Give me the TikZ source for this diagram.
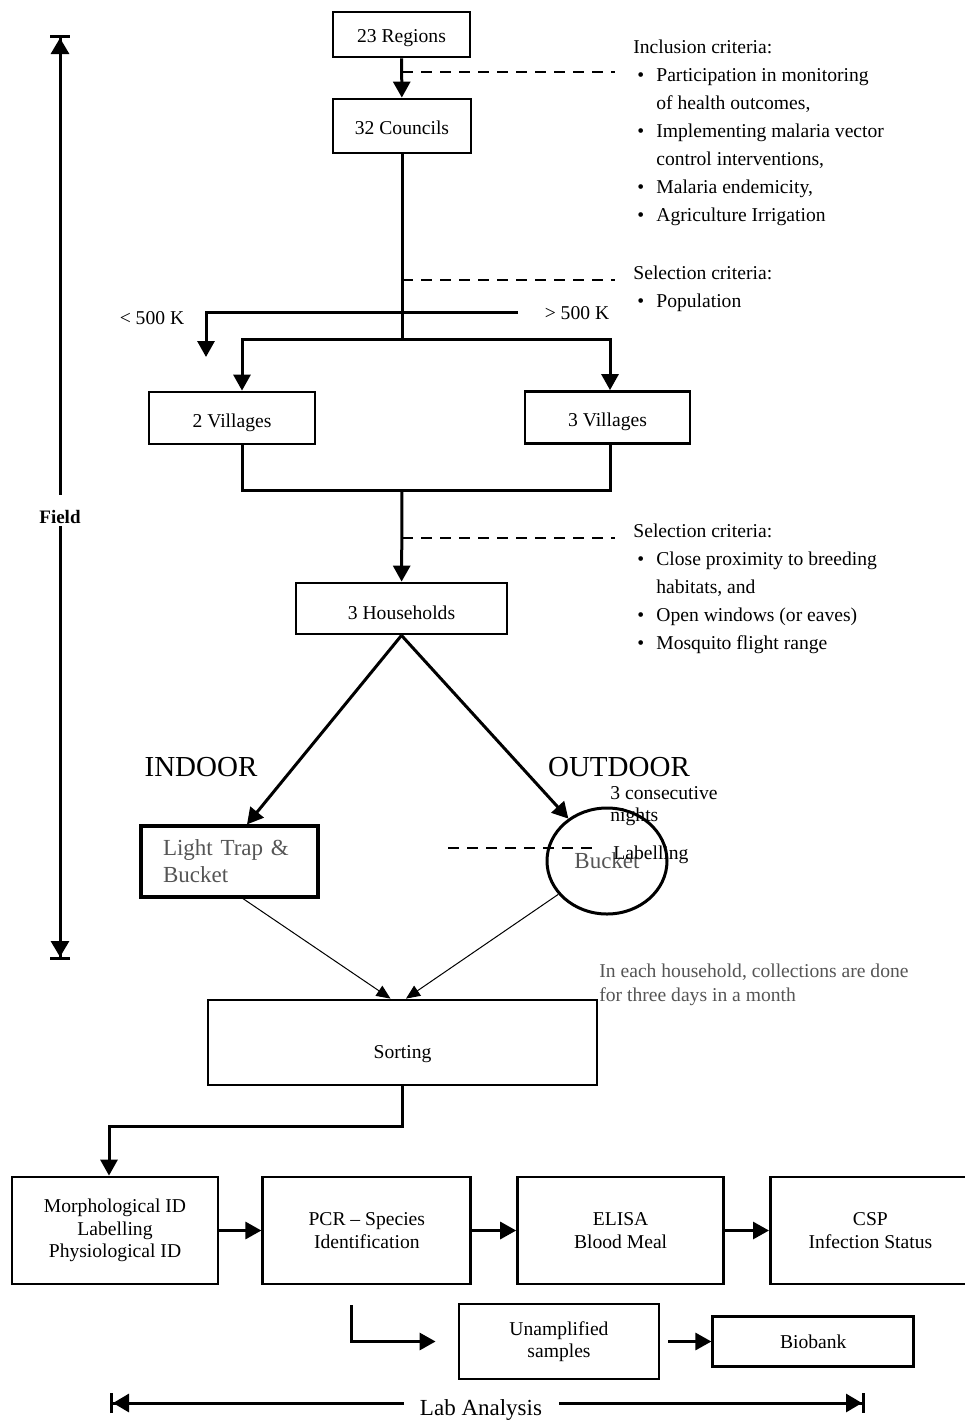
\documentclass[tikz,border=0pt]{standalone}
\usepackage{fontspec}
\setmainfont{Liberation Serif}
\usetikzlibrary{arrows.meta,positioning,shapes.geometric}
\definecolor{NoteGrey}{RGB}{85,85,85}
\newcommand{\boxfont}{\fontsize{9.8}{11.3}\selectfont}
\newcommand{\critfont}{\fontsize{9.8}{14}\selectfont}
\newcommand{\critbul}{\hspace*{2pt}\makebox[9.5pt][l]{\textbullet}}
\newcommand{\critgap}{\hspace*{11.5pt}}
\tikzset{
  stage/.style={draw,line width=1.4pt,align=center,inner sep=0pt,font=\boxfont},
  lowtext/.style={text height=#1,text depth=1.5pt},
  trapbox/.style={draw,line width=1.6pt,align=left,inner xsep=11pt,inner ysep=0pt,
    text width=66.5pt,minimum height=35.5pt,text=NoteGrey,
    font=\fontsize{11.5}{13.5}\selectfont},
  bucketbox/.style={ellipse,draw,line width=1.5pt,inner sep=0pt,text=NoteGrey,
    minimum width=60pt,minimum height=53pt,font=\fontsize{11.5}{13.5}\selectfont},
  flow/.style={-{Triangle[length=8pt,width=8.5pt]},line width=1.5pt},
  link/.style={line width=1.5pt},
  feed/.style={-{Triangle[length=7pt,width=6pt]},line width=0.5pt},
  guide/.style={dash pattern=on 5.5pt off 4pt,line width=1pt},
  span/.style={-{Triangle[length=8pt,width=9pt]Bar[width=10pt]},line width=1.5pt},
  crit/.style={font=\critfont,inner sep=0pt,anchor=base west},
  side/.style={font=\fontsize{14.5}{17}\selectfont,inner sep=0pt},
  note/.style={font=\boxfont,inner sep=0pt}
}

\begin{document}
\begin{tikzpicture}[x=0.5pt,y=-0.5pt]
  \useasboundingbox (0,0) rectangle (965,1421);
  % field part
  \node[stage,lowtext=9.5pt,minimum width=68.5pt,minimum height=22.5pt] (regions) at (401.5,34.5) {23 Regions};
  \node[stage,lowtext=9.5pt,minimum width=69pt,minimum height=27pt] (councils) at (402,126) {32 Councils};
  \node[stage,lowtext=11pt,minimum width=83pt,minimum height=26pt] (vil2) at (232,418) {2 Villages};
  \node[stage,lowtext=10.5pt,minimum width=82.5pt,minimum height=26pt] (vil3) at (607.5,417.5) {3 Villages};
  \node[stage,lowtext=12.5pt,minimum width=105.5pt,minimum height=25.5pt] (house) at (401.5,608.5) {3 Households};
  \node[trapbox] (trap) at (229.5,861.5) {Light Trap \&\\Bucket};
  \node[bucketbox] (bucket) at (607,861) {Bucket};
  \node[stage,lowtext=17pt,minimum width=194.5pt,minimum height=42.5pt] (sorting) at (402.5,1042.5) {Sorting};

  \node[crit] (incl) at (633,53) {\begin{tabular}[t]{@{}l@{}}Inclusion criteria:\\
    \critbul Participation in monitoring\\ \critgap of health outcomes,\\
    \critbul Implementing malaria vector\\ \critgap control interventions,\\
    \critbul Malaria endemicity,\\ \critbul Agriculture Irrigation\end{tabular}};
  \node[crit] (popsel) at (633,279) {\begin{tabular}[t]{@{}l@{}}Selection criteria:\\
    \critbul Population\end{tabular}};
  \node[crit] (housesel) at (633,537) {\begin{tabular}[t]{@{}l@{}}Selection criteria:\\
    \critbul Close proximity to breeding\\ \critgap habitats, and\\
    \critbul Open windows (or eaves)\\ \critbul Mosquito flight range\end{tabular}};

  \node[note] (small) at (152,318) {< 500 K};
  \node[note] (big) at (577,313) {> 500 K};
  \node[side] (indoor) at (201,767) {INDOOR};
  \node[side] (outdoor) at (619,767) {OUTDOOR};
  \node[font=\fontsize{9.8}{11}\selectfont,inner sep=0pt,anchor=base west] (nights) at (610,799)
    {\begin{tabular}[t]{@{}l@{}}3 consecutive\\nights\end{tabular}};
  \node[note,anchor=west] (labelling) at (613,855) {Labelling};
  \node[font=\fontsize{9.8}{12}\selectfont,inner sep=0pt,anchor=base west,text=NoteGrey] (monthly) at (599,977)
    {\begin{tabular}[t]{@{}l@{}}In each household, collections are done\\for three days in a month\end{tabular}};

  \coordinate (dashA) at (402,72);
  \coordinate (dashAend) at (615,72);
  \coordinate (dashB) at (402,280);
  \coordinate (dashBend) at (615,280);
  \coordinate (split) at (402,339);
  \coordinate (bigstart) at (518,312);
  \coordinate (smallend) at (206,357);
  \coordinate (join) at (402,490);
  \coordinate (dashC) at (402,538);
  \coordinate (dashCend) at (615,538);
  \coordinate (dashD) at (448,848);
  \coordinate (dashDend) at (592,848);

  \draw[flow] (regions) -- (councils);
  \draw[guide] (dashA) -- (dashAend);
  \draw[link] (councils.south) -- (split);
  \draw[guide] (dashB) -- (dashBend);
  \draw[flow] (bigstart) -| (smallend);
  \draw[flow] (split) -| ([xshift=5pt]vil2.north);
  \draw[flow] (split) -| ([xshift=1.25pt]vil3.north);
  \draw[link] ([xshift=5pt]vil2.south) |- (join) -| ([xshift=1.25pt]vil3.south);
  \draw[flow] (join) -- (house);
  \draw[guide] (dashC) -- (dashCend);
  \draw[flow] (house.south) -- ([xshift=8.75pt]trap.north);
  \draw[flow] (house.south) -- (bucket);
  \draw[guide] (dashD) -- (dashDend);
  \draw[feed] ([xshift=6.75pt]trap.south) -- ([xshift=-6pt]sorting.north);
  \draw[feed] (bucket) -- ([xshift=1.75pt]sorting.north);

  % lab part
  \node[stage,minimum width=103pt,minimum height=53.5pt] (morph) at (115,1230.5) {Morphological ID\\Labelling\\Physiological ID};
  \node[stage,minimum width=104pt,minimum height=53.5pt,right=21pt of morph] (pcr) {PCR -- Species\\Identification};
  \node[stage,minimum width=103pt,minimum height=53.5pt,right=22pt of pcr] (elisa) {ELISA\\Blood Meal};
  \node[stage,minimum width=100pt,minimum height=53.5pt,right=22pt of elisa] (csp) {CSP\\Infection Status};
  \node[stage,minimum width=100pt,minimum height=37.5pt] (unamp) at (559,1341.5) {Unamplified\\samples};
  \node[stage,minimum width=100.5pt,minimum height=25pt,right=25.5pt of unamp] (biobank) {Biobank};
  \coordinate (pcrtap) at (351,1305);

  \draw[flow] (sorting.south) -- ++(0,40) -| ([xshift=-3pt]morph.north);
  \draw[flow] (morph) -- (pcr);
  \draw[flow] (pcr) -- (elisa);
  \draw[flow] (elisa) -- (csp);
  \draw[flow] (pcrtap) |- ([xshift=-11pt]unamp.west);
  \draw[flow,shorten <=4pt] (unamp) -- (biobank);

  % side spans
  \node[font=\fontsize{9.5}{11}\selectfont\bfseries,inner sep=0pt] (field) at (60,517) {Field};
  \coordinate (fieldtop) at (60,35);
  \coordinate (fieldbot) at (60,960);
  \draw[span] ([yshift=7.5pt]field.north) -- (fieldtop);
  \draw[span] ([yshift=-1pt]field.south) -- (fieldbot);
  \node[font=\fontsize{11.5}{13}\selectfont,inner sep=0pt] (lab) at (481,1410) {Lab Analysis};
  \coordinate (labstart) at (110,1403);
  \coordinate (labend) at (865,1403);
  \draw[span] ([xshift=-7.75pt,yshift=3.5pt]lab.west) -- (labstart);
  \draw[span] ([xshift=8.25pt,yshift=3.5pt]lab.east) -- (labend);
\end{tikzpicture}
\end{document}
